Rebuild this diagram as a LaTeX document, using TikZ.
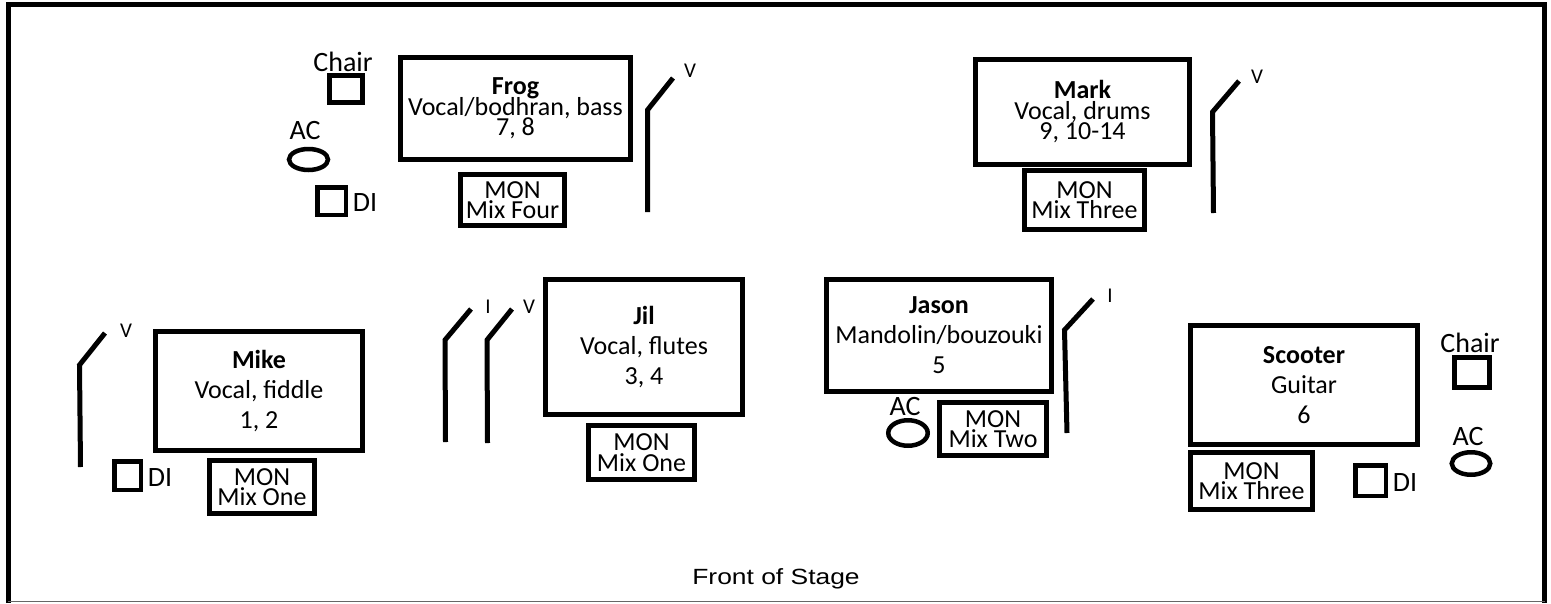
\documentclass[tikz,border=0pt]{standalone}
\usepackage{fontspec}
\setmainfont{Carlito}
\newfontfamily\arialfont{Liberation Sans}
\usetikzlibrary{shapes.geometric}
\lineskiplimit=-100pt
\lineskip=0pt
\begin{document}
\begin{tikzpicture}[x=1pt,y=-1pt,
  person/.style={draw, line width=5pt, inner sep=0pt, align=center,
    font=\fontsize{26}{30}\selectfont},
  tightperson/.style={person, font=\fontsize{26}{20.5}\selectfont},
  monbox/.style={draw, line width=5pt, inner sep=0pt, align=center,
    font=\fontsize{26}{20.5}\selectfont},
  smallbox/.style={draw, line width=4.5pt, inner sep=0pt},
  acring/.style={draw, ellipse, line width=4.5pt, inner sep=0pt},
  lbl/.style={font=\fontsize{28}{30}\selectfont, inner sep=0pt},
  miclbl/.style={font=\fontsize{21}{23}\selectfont, inner sep=0pt},
  mic/.style={line width=5pt},
]
\useasboundingbox (0,0) rectangle (1551,603);
\fill[white] (0,0) rectangle (1551,603);
% stage frame
\draw[line width=5pt] (8,603) -- (8,4.5) -- (1544.5,4.5) -- (1544.5,603);
\draw[line width=1.2pt, black!60] (8,601.5) -- (1544.5,601.5);

% ---- Frog ----
\node[tightperson, minimum width=230pt, minimum height=102pt] (frog) at (515.5,108.5)
  {\textbf{Frog}\\Vocal/bodhran, bass\\7, 8};
\node[monbox, minimum width=104pt, minimum height=51pt] (frogmon) at (512.5,200) {MON\\Mix Four};
\node[lbl] (frogchairl) at (343,62) {Chair};
\node[smallbox, minimum width=33pt, minimum height=27pt] (frogchair) at (346,89) {};
\node[lbl] (frogacl) at (305,131) {AC};
\node[acring, minimum width=39pt, minimum height=21pt] (frogac) at (308.5,159.5) {};
\node[smallbox, minimum width=28.5pt, minimum height=27.5pt] (frogdi) at (331.5,201) {};
\node[lbl] (frogdil) at (365,203) {DI};
\coordinate (fma) at (647.5,212);
\coordinate (fmb) at (647.5,110);
\coordinate (fmc) at (673,78);
\draw[mic] (fma) -- (fmb) -- (fmc);
\node[miclbl] (fml) at (690,71) {V};

% ---- Mark ----
\node[tightperson, minimum width=214pt, minimum height=105pt] (mark) at (1082.5,112)
  {\textbf{Mark}\\Vocal, drums\\9, 10-14};
\node[monbox, minimum width=120pt, minimum height=59pt] (markmon) at (1084.5,200) {MON\\Mix Three};
\coordinate (kma) at (1213.5,213);
\coordinate (kmb) at (1212.5,112);
\coordinate (kmc) at (1239,81);
\draw[mic] (kma) -- (kmb) -- (kmc);
\node[miclbl] (kml) at (1257,77) {V};

% ---- Mike ----
\node[person, minimum width=207pt, minimum height=119pt] (mike) at (259,391)
  {\textbf{Mike}\\Vocal, fiddle\\1, 2};
\node[monbox, minimum width=105pt, minimum height=53pt] (mikemon) at (262,487) {MON\\Mix One};
\node[smallbox, minimum width=26.5pt, minimum height=28.5pt] (mikedi) at (127.5,475.5) {};
\node[lbl] (mikedil) at (160,478) {DI};
\coordinate (ima) at (80.5,467);
\coordinate (imb) at (79.5,365);
\coordinate (imc) at (105,333);
\draw[mic] (ima) -- (imb) -- (imc);
\node[miclbl] (iml) at (126,331) {V};

% ---- Jil ----
\node[person, minimum width=197pt, minimum height=135pt] (jil) at (644,347)
  {\textbf{Jil}\\Vocal, flutes\\3, 4};
\node[monbox, minimum width=106pt, minimum height=54pt] (jilmon) at (641.5,452.5) {MON\\Mix One};
\coordinate (j1a) at (445.5,442);
\coordinate (j1b) at (445,340);
\coordinate (j1c) at (471,309);
\draw[mic] (j1a) -- (j1b) -- (j1c);
\node[miclbl] (j1l) at (488,307) {I};
\coordinate (j2a) at (487.5,443);
\coordinate (j2b) at (487,340);
\coordinate (j2c) at (512,309);
\draw[mic] (j2a) -- (j2b) -- (j2c);
\node[miclbl] (j2l) at (529,307) {V};

% ---- Jason ----
\node[person, minimum width=225pt, minimum height=112pt] (jason) at (939,335.5)
  {\textbf{Jason}\\Mandolin/bouzouki\\5};
\node[monbox, minimum width=107pt, minimum height=53pt] (jasonmon) at (993,429) {MON\\Mix Two};
\node[lbl] (jasonacl) at (905,407) {AC};
\node[acring, minimum width=39.5pt, minimum height=25.5pt] (jasonac) at (908,433) {};
\coordinate (sma) at (1067,433);
\coordinate (smb) at (1064.5,330);
\coordinate (smc) at (1093,299);
\draw[mic] (sma) -- (smb) -- (smc);
\node[miclbl] (sml) at (1110,296) {I};

% ---- Scooter ----
\node[person, minimum width=227pt, minimum height=119pt] (scooter) at (1304,385)
  {\textbf{Scooter}\\Guitar\\6};
\node[monbox, minimum width=122pt, minimum height=57pt] (scootermon) at (1251.5,481) {MON\\Mix Three};
\node[lbl] (scchairl) at (1470,343) {Chair};
\node[smallbox, minimum width=35pt, minimum height=30pt] (scchair) at (1472,372.5) {};
\node[lbl] (scacl) at (1468,437) {AC};
\node[acring, minimum width=38.5pt, minimum height=22.5pt] (scac) at (1471,463.5) {};
\node[smallbox, minimum width=30.5pt, minimum height=30.5pt] (scdi) at (1370.5,480.5) {};
\node[lbl] (scdil) at (1405,483) {DI};

% front label
\node[font=\arialfont\fontsize{22}{24}\selectfont, inner sep=0pt, xscale=1.2, transform shape] (front) at (776,579) {Front of Stage};
\end{tikzpicture}
\end{document}
